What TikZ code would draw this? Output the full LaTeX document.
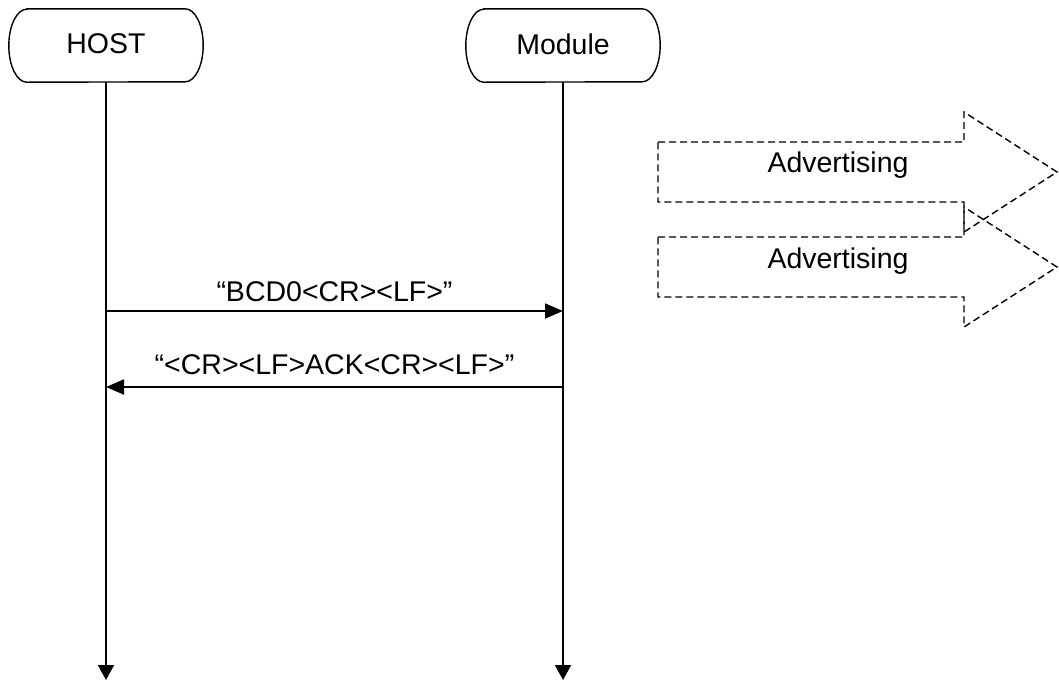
\documentclass[tikz,border=0pt]{standalone}
\usepackage{fontspec}
\setmainfont{Liberation Sans}
\usepackage{tikz}
\usetikzlibrary{arrows.meta}
\tikzset{actor/.style={minimum width=194pt, minimum height=73pt, inner sep=0pt},
lifeline/.style={line width=1.8pt, -{Triangle[width=16pt,length=15pt]}},
msg/.style={line width=1.8pt, -{Triangle[width=15pt,length=18pt]}},
adv/.style={line width=1.4pt, dash pattern=on 7pt off 4pt}}

\begin{document}
\begin{tikzpicture}[x=1pt, y=-1pt, font=\fontsize{28.5}{34}\selectfont]
    \useasboundingbox (0,0) rectangle (1059,681);

    \node[actor] (host) at (106,45.5) {\raisebox{3pt}{HOST}};
    \node[actor] (module) at (563,45.5) {\raisebox{3pt}{Module}};
    \foreach \n in {host,module}
        \draw[line width=1.4pt] ([xshift=18pt]\n.north west) -- ([xshift=-18pt]\n.north east)
            arc[start angle=90, end angle=-90, x radius=18pt, y radius=36.5pt]
            -- ([xshift=18pt]\n.south west)
            arc[start angle=270, end angle=90, x radius=18pt, y radius=36.5pt] -- cycle;

    \coordinate (hostend) at (106,680);
    \coordinate (moduleend) at (563,680);
    \draw[lifeline] (host) -- (hostend);
    \draw[lifeline] (module) -- (moduleend);

    \coordinate (h1) at (106,311);
    \coordinate (m1) at (563,311);
    \coordinate (h2) at (106,387);
    \coordinate (m2) at (563,387);
    \draw[msg] (h1) -- (m1) node[midway, above=5pt] {“BCD0<CR><LF>”};
    \draw[msg] (m2) -- (h2) node[midway, above=8pt] {“<CR><LF>ACK<CR><LF>”};

    \foreach \y in {142,237}
        \draw[adv] (658,\y) -- (964,\y) -- (964,\y-30) -- (1057,\y+30) -- (964,\y+90) -- (964,\y+60) -- (658,\y+60) -- cycle;
    \node[anchor=base] (advup) at (838,172) {Advertising};
    \node[anchor=base] (advdown) at (838,268) {Advertising};

\end{tikzpicture}
\end{document}
